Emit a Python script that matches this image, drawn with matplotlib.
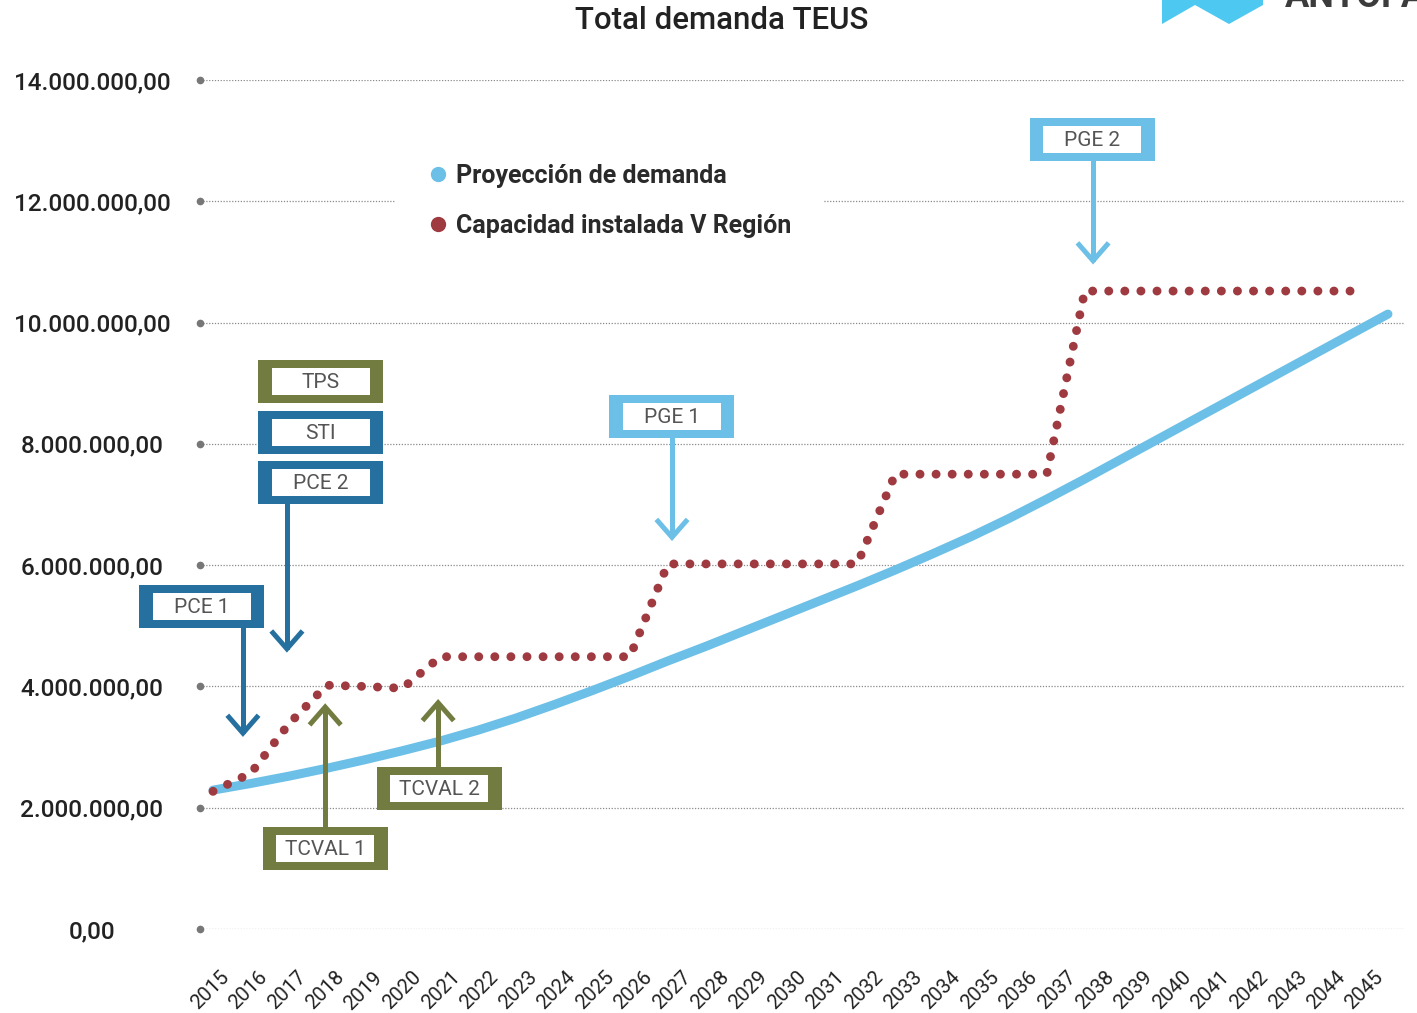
import numpy as np
import matplotlib
matplotlib.use('Agg')
import matplotlib.pyplot as plt
from matplotlib.lines import Line2D
from matplotlib.patches import Rectangle, Polygon
from matplotlib.transforms import IdentityTransform

plt.rcParams['font.family'] = ['Roboto', 'DejaVu Sans']

# demand projection (millions of TEUs), one value per year, 2015-2046
years_demand = np.arange(2015, 2047)
demand = [2.29, 2.40, 2.52, 2.65, 2.79, 2.94, 3.10, 3.28, 3.48, 3.70,
          3.93, 4.17, 4.42, 4.66, 4.91, 5.16, 5.41, 5.66, 5.92, 6.19,
          6.47, 6.77, 7.09, 7.42, 7.76, 8.10, 8.44, 8.78, 9.12, 9.46,
          9.80, 10.14]

# installed capacity V Region (millions of TEUs), 2015-2045
years_cap = np.arange(2015, 2046)
capacity = [2.27, 2.57, 3.38, 4.02, 4.00, 3.97,
            4.49, 4.49, 4.49, 4.49, 4.49, 4.49,
            6.02, 6.02, 6.02, 6.02, 6.02, 6.02,
            7.50, 7.50, 7.50, 7.50, 7.50,
            10.52, 10.52, 10.52, 10.52, 10.52, 10.52, 10.52, 10.52]

tick_years = [str(y) for y in range(2015, 2046)]
y_ticks = [0, 2, 4, 6, 8, 10, 12, 14]

# projects: label, colour, arrow tip (year, millions), box offset from tip (px)
projects = [
    ('PCE 1', 'dark', 2015.79, 3.23, -41, 127),
    ('PCE 2', 'dark', 2016.95, 4.62, 34, 166),
    ('TCVAL 1', 'olive', 2017.96, 3.66, 0, -141),
    ('TCVAL 2', 'olive', 2020.94, 3.73, 1, -86),
    ('PGE 1', 'light', 2027.11, 6.46, 0, 121),
    ('PGE 2', 'light', 2038.22, 11.02, -1, 121),
]
# boxes stacked over PCE 2 without arrows: label, colour, offset above PCE 2 box (px)
stacked = [('STI', 'dark', 50), ('TPS', 'olive', 101)]

colors = {'dark': '#25709F', 'olive': '#737C40', 'light': '#6CBFE6'}
blue = '#6CBFE6'
red = '#9E3A40'

W, H = 1417, 1013
fig = plt.figure(figsize=(W / 100, H / 100), dpi=100)
ax = fig.add_axes([200 / W, 1 - 929 / H, 1205 / W, 849 / H])

x0, x1 = 2014.657, 2046.45
ax.set_xlim(x0, x1)
ax.set_ylim(0, 14e6)

for v in y_ticks:
    ax.axhline(v * 1e6, color='#8a8a8a', lw=0.9, ls=(0, (1, 1.3)), zorder=1)
ax.plot([x0] * len(y_ticks), [v * 1e6 for v in y_ticks], 'o', color='#777777',
        ms=4.5, clip_on=False, zorder=2)

ax.plot(years_demand, np.array(demand) * 1e6, color=blue, lw=6.5,
        solid_capstyle='round', solid_joinstyle='round', zorder=3)
ax.plot(years_cap, np.array(capacity) * 1e6, color=red, lw=6.4,
        dashes=(0.01, 1.8), dash_capstyle='round', zorder=4)

for s in ax.spines.values():
    s.set_visible(False)

def fmt(v):
    s = f"{v * 1e6:,.2f}"
    return s.replace(',', 'X').replace('.', ',').replace('X', '.')

ax.set_yticks([v * 1e6 for v in y_ticks])
ax.set_yticklabels([fmt(v) for v in y_ticks])
ax.tick_params(axis='y', length=0, pad=77.8, labelsize=17.5, labelcolor='#222222')
for t in ax.get_yticklabels():
    t.set_horizontalalignment('center')
    t.set_fontweight('medium')

ax.set_xticks(np.linspace(2015.16, 2045.63, len(tick_years)))
ax.set_xticklabels(tick_years, rotation=45, ha='right', va='top',
                   rotation_mode='anchor')
ax.tick_params(axis='x', length=0, pad=28, labelsize=14.5, labelcolor='#222222')

handles = [Line2D([], [], marker='o', ls='none', color=blue, ms=10),
           Line2D([], [], marker='o', ls='none', color=red, ms=10)]
leg = ax.legend(handles, ['Proyección de demanda', 'Capacidad instalada V Región'],
                loc='upper left', bbox_to_anchor=(383 / W, 1 - 119 / H),
                bbox_transform=fig.transFigure, frameon=True,
                fancybox=False, framealpha=1, borderpad=1.3, handlelength=0.8,
                handletextpad=0.33, labelspacing=1.02,
                prop={'weight': 'bold', 'size': 18})
leg.get_frame().set_edgecolor('none')
leg.get_frame().set_facecolor('white')
for t in leg.get_texts():
    t.set_color('#2a2a2a')
leg.set_zorder(2.5)

ident = IdentityTransform()

def draw_box(cx, cy, label, c):
    fig.add_artist(Rectangle((cx - 62.5, cy - 21.5), 125, 43, fc=c, ec='none',
                             transform=ident, zorder=5))
    fig.add_artist(Rectangle((cx - 49, cy - 13.5), 98, 27, fc='white', ec='none',
                             transform=ident, zorder=6))
    fig.text(cx, cy - 1, label, transform=ident, ha='center', va='center',
             fontsize=15, color='#555555', zorder=7)

for label, ckey, ty_year, tv, dx, dy in projects:
    c = colors[ckey]
    tx, ty = ax.transData.transform((ty_year, tv * 1e6))
    cx, cy = tx + dx, ty + dy
    draw_box(cx, cy, label, c)
    if dy > 0:
        start = cy - 21.5
        sign = 1
    else:
        start = cy + 21.5
        sign = -1
    fig.add_artist(Line2D([tx, tx], [start, ty + sign * 2], color=c, lw=3.6,
                          transform=ident, zorder=5))
    fig.add_artist(Line2D([tx - 14, tx, tx + 14], [ty + sign * 16, ty, ty + sign * 16],
                          color=c, lw=3.6, transform=ident, zorder=5,
                          solid_joinstyle='miter'))
    if label == 'PCE 2':
        for slabel, skey, off in stacked:
            draw_box(cx, cy + off, slabel, colors[skey])

fig.text(0.5095, 1 - 29 / H, 'Total demanda TEUS', ha='center', va='baseline',
         fontsize=22.5, fontweight='medium', color='#222222')

# partial logo at the top right corner
fig.add_artist(Polygon([(1162, H + 5), (1263, H + 5), (1263, H - 5), (1229, H - 24),
                        (1195, H - 5), (1162, H - 24)], closed=True,
                       fc='#4DC8F1', ec='none', transform=ident))
fig.text(1285, H - 7, 'ANTOFAGASTA', transform=ident, ha='left', va='baseline',
         fontsize=26, fontweight='bold', color='#3c3c3c')

fig.savefig('out.png', dpi=100)
